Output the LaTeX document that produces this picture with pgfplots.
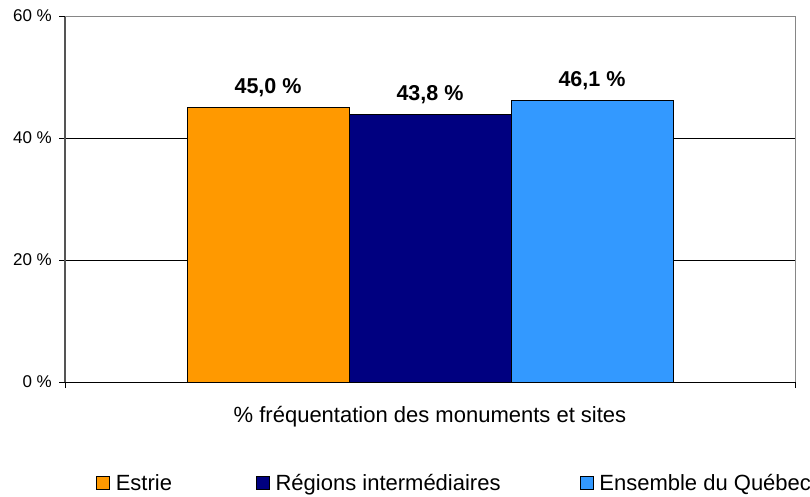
\documentclass[border=0pt]{standalone}
\usepackage{fontspec}
\setmainfont{Liberation Sans}
\usepackage{pgfplots}
\pgfplotsset{compat=1.18}
\definecolor{cEstrie}{HTML}{FF9900}
\definecolor{cReg}{HTML}{000080}
\definecolor{cQc}{HTML}{3399FF}
\definecolor{axgray}{HTML}{868686}
\definecolor{axdark}{HTML}{555555}
\pgfplotsset{sqleg/.style={legend image code/.code={\draw[##1] (0pt,0.5pt) rectangle (13pt,13.5pt);}}}
\begin{document}
\begin{tikzpicture}[x=1pt,y=1pt]
\path[use as bounding box] (0,0) rectangle (810,496);
\begin{axis}[
  at={(65pt,114pt)}, anchor=south west,
  scale only axis, width=730pt, height=366pt,
  xmin=-1, xmax=1, ymin=0, ymax=60,
  axis x line=bottom, axis y line=left,
  x axis line style={-, draw=black, line width=0.9pt},
  y axis line style={-, draw=axdark, line width=1.2pt},
  xtick={-1,1}, xticklabels={},
  ytick={0,20,40}, yticklabels={0 \%,20 \%,40 \%},
  extra y ticks={60}, extra y tick labels={60 \%},
  extra y tick style={grid=major, major grid style={draw=axgray, line width=1pt}, y grid style={draw=axgray, line width=1pt}},
  ymajorgrids, xmajorgrids,
  y grid style={black, line width=0.9pt},
  x grid style={axgray, line width=1pt},
  tick align=outside, major tick length=6pt,
  tick style={black, line width=0.9pt},
  tick label style={font=\fontsize{17}{20}\selectfont},
  y tick label style={inner sep=0pt, xshift=-7pt},
  ybar=0pt, bar width=0.4438,
  nodes near coords={\pgfmathprintnumber[fixed,fixed zerofill,precision=1,use comma]{\pgfplotspointmeta}~\%},
  nodes near coords style={font=\fontsize{21.5}{25}\selectfont\bfseries, inner sep=0pt, anchor=base, yshift=14.4pt},
  /pgf/number format/assume math mode=true,
  xlabel={\% fréquentation des monuments et sites},
  every axis x label/.style={at={(axis description cs:0.5,-0.1093)}, anchor=base, font=\fontsize{22}{26}\selectfont},
  legend columns=3,
  legend style={at={(axis description cs:0.04247,-0.276)}, anchor=west, draw=none, fill=none, inner sep=0pt, outer sep=0pt,
    font=\fontsize{22}{26}\selectfont, nodes={inner sep=0pt}, cells={anchor=base west},
    /tikz/every odd column/.append style={column sep=6pt},
    /tikz/every even column/.append style={column sep=0pt}},
]
\addplot[fill=cEstrie, draw=black, line width=0.8pt, sqleg] coordinates {(0,45.0)};
\addlegendentry{\makebox[140pt][l]{Estrie}}
\addplot[fill=cReg, draw=black, line width=0.8pt, sqleg] coordinates {(0,43.8)};
\addlegendentry{\makebox[304pt][l]{Régions intermédiaires}}
\addplot[fill=cQc, draw=black, line width=0.8pt, sqleg] coordinates {(0,46.1)};
\addlegendentry{Ensemble du Québec}
\end{axis}
\end{tikzpicture}
\end{document}
